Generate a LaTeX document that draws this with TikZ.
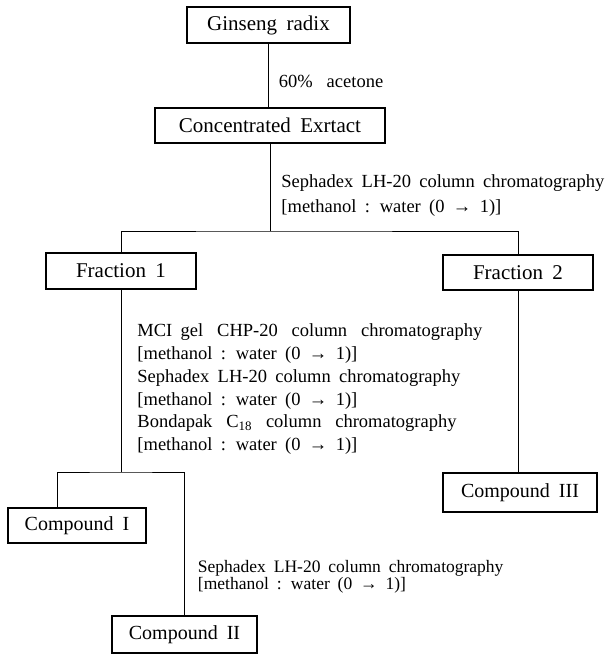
\documentclass[tikz,border=0pt]{standalone}
\usepackage{fontspec}
\setmainfont{Liberation Serif}[WordSpace=1.8]
\usetikzlibrary{positioning,calc}
\newcommand{\wsp}{\hspace{0.75em}}
\tikzset{
  every picture/.style={line width=0.9pt},
  bx/.style={draw,line width=1.2pt,fill=white,minimum height=36pt,inner sep=0pt,font=\fontsize{21}{25}\selectfont},
  cpd/.style={bx,font=\fontsize{20}{24}\selectfont},
  lab/.style={anchor=west,inner sep=0pt,align=left,font=\fontsize{18.5}{22.8}\selectfont},
  labt/.style={lab,font=\fontsize{18.5}{25}\selectfont},
  labs/.style={lab,font=\fontsize{17.5}{16.5}\selectfont},
}

\begin{document}
\begin{tikzpicture}[x=1pt,y=-1pt]
  % page
  \fill[white] (0,0) rectangle (608,658);
  \useasboundingbox (0,0) rectangle (608,658);
  % boxes
  \node[bx,minimum width=163pt] (gin) at (268.5,25) {Ginseng radix};
  \node[bx,minimum width=230pt,minimum height=35pt] (conc) at (270,125.5) {Concentrated Exrtact};
  \node[bx,minimum width=150pt] (fr1) at (121,271) {Fraction 1};
  \node[bx,minimum width=150pt,minimum height=35pt] (fr2) at (518,272.5) {Fraction 2};
  \node[cpd,minimum width=154pt,minimum height=39pt] (cp3) at (520,492.5) {Compound III};
  \node[cpd,minimum width=138pt,minimum height=35pt] (cp1) at (77,525.5) {Compound I};
  \node[cpd,minimum width=145pt,minimum height=37pt] (cp2) at (184.5,634.5) {Compound II};
  % junctions
  \coordinate (split) at (269,231);
  \coordinate (fork) at (121,472);
  \coordinate (lft) at (57,472);
  % connectors
  \draw (gin.south) -- node[lab,pos=0.6,xshift=10pt]{60\%\wsp acetone} (gin.south |- conc.north);
  \draw (conc.south) -- node[labt,pos=0.6,xshift=11pt]{Sephadex LH-20 column chromatography\\{}[methanol : water (0 → 1)]} (conc.south |- split);
  \draw (fr1.north) |- (split) -| (fr2.north);
  \draw (fr1.south) -- node[lab,pos=0.546,xshift=16pt]{MCI gel\wsp CHP-20\wsp column\wsp chromatography\\{}[methanol : water (0 → 1)]\\Sephadex LH-20 column chromatography\\{}[methanol : water (0 → 1)]\\Bondapak\wsp C\textsubscript{18}\wsp column\wsp chromatography\\{}[methanol : water (0 → 1)]} (fork);
  \draw (cp1.north -| lft) |- (fork) -| node[labs,pos=0.866,xshift=13pt]{Sephadex LH-20 column chromatography\\{}[methanol : water (0 → 1)]} (cp2.north);
  \draw (fr2.south) -- (fr2.south |- cp3.north);
\end{tikzpicture}
\end{document}
